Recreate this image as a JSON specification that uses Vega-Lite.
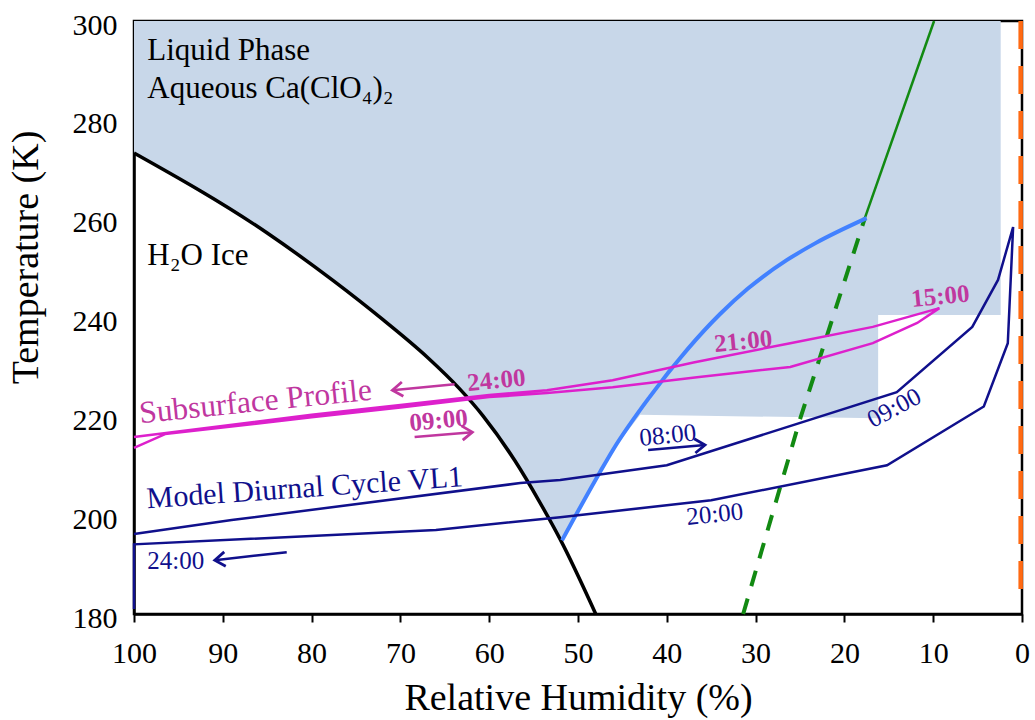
{
  "$schema": "https://vega.github.io/schema/vega-lite/v6.json",
  "width": 888,
  "height": 593,
  "autosize": "none",
  "padding": {"left": 134, "top": 21, "right": 13, "bottom": 106},
  "background": "white",
  "config": {
    "view": {"stroke": "black", "strokeWidth": 2.5},
    "axis": {
      "labelFont": "Liberation Serif",
      "titleFont": "Liberation Serif",
      "labelColor": "black",
      "titleColor": "black",
      "labelFontSize": 30,
      "titleFontSize": 38,
      "titleFontWeight": "normal",
      "domainColor": "black",
      "domainWidth": 2.5,
      "grid": false,
      "labelFlush": false,
      "labelOverlap": false
    }
  },
  "datasets": {
    "liquid": [
      {"i": 0, "rh": 100, "t": 300},
      {"i": 1, "rh": 100, "t": 273.3},
      {"i": 2, "rh": 85.0, "t": 257.1},
      {"i": 3, "rh": 77.6, "t": 247.5},
      {"i": 4, "rh": 72.0, "t": 239.6},
      {"i": 5, "rh": 67.0, "t": 232.0},
      {"i": 6, "rh": 63.3, "t": 225.5},
      {"i": 7, "rh": 60.7, "t": 220.1},
      {"i": 8, "rh": 57.1, "t": 211.0},
      {"i": 9, "rh": 54.3, "t": 202.6},
      {"i": 10, "rh": 51.9, "t": 195.0},
      {"i": 11, "rh": 47.5, "t": 208.8},
      {"i": 12, "rh": 46.1, "t": 213.1},
      {"i": 13, "rh": 43.0, "t": 220.3},
      {"i": 14, "rh": 16.2, "t": 219.6},
      {"i": 15, "rh": 16.2, "t": 240.5},
      {"i": 16, "rh": 2.4, "t": 240.5},
      {"i": 17, "rh": 2.4, "t": 300}
    ],
    "ice": [
      {"i": 0, "rh": 100, "t": 273.3},
      {"i": 1, "rh": 85.0, "t": 257.1},
      {"i": 2, "rh": 77.6, "t": 247.5},
      {"i": 3, "rh": 72.0, "t": 239.6},
      {"i": 4, "rh": 67.0, "t": 232.0},
      {"i": 5, "rh": 63.3, "t": 225.5},
      {"i": 6, "rh": 60.7, "t": 220.1},
      {"i": 7, "rh": 57.1, "t": 211.0},
      {"i": 8, "rh": 54.3, "t": 202.6},
      {"i": 9, "rh": 52.0, "t": 195.1},
      {"i": 10, "rh": 48.0, "t": 180}
    ],
    "green": [
      {"part": "solid", "rh": 9.9, "t": 300},
      {"part": "solid", "rh": 17.7, "t": 260.1},
      {"part": "dashed", "rh": 17.7, "t": 260.1},
      {"part": "dashed", "rh": 25.0, "t": 219.4},
      {"part": "dashed", "rh": 31.4, "t": 180}
    ],
    "efflorescence": [
      {"i": 0, "rh": 51.8, "t": 194.9},
      {"i": 1, "rh": 47.5, "t": 208.8},
      {"i": 2, "rh": 46.1, "t": 213.1},
      {"i": 3, "rh": 41.9, "t": 224.0},
      {"i": 4, "rh": 37.7, "t": 233.5},
      {"i": 5, "rh": 34.0, "t": 240.7},
      {"i": 6, "rh": 30.9, "t": 245.8},
      {"i": 7, "rh": 26.5, "t": 251.6},
      {"i": 8, "rh": 23.3, "t": 255.0},
      {"i": 9, "rh": 17.5, "t": 260.1}
    ],
    "subsurface": [
      {"i": 0, "rh": 100, "t": 213.6},
      {"i": 1, "rh": 96.5, "t": 216.4},
      {"i": 2, "rh": 80, "t": 219.8},
      {"i": 3, "rh": 70, "t": 221.8},
      {"i": 4, "rh": 60, "t": 223.9},
      {"i": 5, "rh": 53.5, "t": 224.7},
      {"i": 6, "rh": 46.1, "t": 225.9},
      {"i": 7, "rh": 36.6, "t": 227.9},
      {"i": 8, "rh": 26.1, "t": 230.0},
      {"i": 9, "rh": 16.8, "t": 234.8},
      {"i": 10, "rh": 11.8, "t": 238.9},
      {"i": 11, "rh": 9.3, "t": 241.9},
      {"i": 12, "rh": 16.8, "t": 238.1},
      {"i": 13, "rh": 26.1, "t": 234.8},
      {"i": 14, "rh": 37, "t": 230.9},
      {"i": 15, "rh": 46.1, "t": 227.3},
      {"i": 16, "rh": 53.5, "t": 225.3},
      {"i": 17, "rh": 60, "t": 224.3},
      {"i": 18, "rh": 70, "t": 222.3},
      {"i": 19, "rh": 80, "t": 220.3},
      {"i": 20, "rh": 100, "t": 215.8}
    ],
    "model": [
      {"i": 0, "rh": 100, "t": 181},
      {"i": 1, "rh": 100, "t": 194.1},
      {"i": 2, "rh": 66, "t": 197.0},
      {"i": 3, "rh": 52, "t": 199.6},
      {"i": 4, "rh": 35, "t": 203.0},
      {"i": 5, "rh": 15.2, "t": 210.1},
      {"i": 6, "rh": 4.3, "t": 222.0},
      {"i": 7, "rh": 1.6, "t": 234.8},
      {"i": 8, "rh": 1.0, "t": 258.3},
      {"i": 9, "rh": 2.7, "t": 247.6},
      {"i": 10, "rh": 5.6, "t": 238.1},
      {"i": 11, "rh": 14.1, "t": 224.9},
      {"i": 12, "rh": 40, "t": 210.1},
      {"i": 13, "rh": 52, "t": 207.1},
      {"i": 14, "rh": 56.5, "t": 206.5},
      {"i": 15, "rh": 89, "t": 199},
      {"i": 16, "rh": 100, "t": 196.2}
    ],
    "dry": [
      {"rh": 0.15, "t": 300},
      {"rh": 0.15, "t": 183}
    ],
    "arrows": [
      {"id": "s24", "series": "subsurface", "end": "tail", "dir": "left", "rh": 63.9, "t": 226.5},
      {"id": "s24", "series": "subsurface", "end": "head", "dir": "left", "rh": 70.9, "t": 225.3},
      {"id": "s09", "series": "subsurface", "end": "tail", "dir": "right", "rh": 68.4, "t": 215.8},
      {"id": "s09", "series": "subsurface", "end": "head", "dir": "right", "rh": 61.9, "t": 216.8},
      {"id": "m24", "series": "model", "end": "tail", "dir": "left", "rh": 82.8, "t": 192.5},
      {"id": "m24", "series": "model", "end": "head", "dir": "left", "rh": 90.9, "t": 190.9},
      {"id": "m08", "series": "model", "end": "tail", "dir": "right", "rh": 42.1, "t": 213.2},
      {"id": "m08", "series": "model", "end": "head", "dir": "right", "rh": 35.7, "t": 214.2}
    ],
    "phases": [
      {"text": "Liquid Phase", "rh": 98.5, "t": 292.1},
      {"text": "Aqueous Ca(ClO₄)₂", "rh": 98.5, "t": 284.4},
      {"text": "H₂O Ice", "rh": 98.5, "t": 250.6}
    ],
    "subTimes": [
      {"text": "24:00", "rh": 59.2, "t": 227.3},
      {"text": "09:00", "rh": 65.7, "t": 219.2},
      {"text": "21:00", "rh": 31.4, "t": 235.2},
      {"text": "15:00", "rh": 9.2, "t": 244.3}
    ],
    "modelTimesFlat": [
      {"text": "24:00", "rh": 95.3, "t": 190.7}
    ],
    "modelTimesTilted": [
      {"text": "08:00", "rh": 39.9, "t": 216.2},
      {"text": "20:00", "rh": 34.6, "t": 200.2}
    ],
    "modelTimesSteep": [
      {"text": "09:00", "rh": 14.4, "t": 221.7}
    ]
  },
  "encoding": {
    "x": {
      "field": "rh",
      "type": "quantitative",
      "scale": {"domain": [0, 100], "reverse": true, "nice": false},
      "axis": {
        "title": "Relative Humidity (%)",
        "values": [0, 10, 20, 30, 40, 50, 60, 70, 80, 90, 100],
        "format": "d",
        "tickSize": 8,
        "tickWidth": 2,
        "tickColor": "black",
        "labelPadding": 16,
        "titlePadding": 11
      }
    },
    "y": {
      "field": "t",
      "type": "quantitative",
      "scale": {"domain": [180, 300], "nice": false, "zero": false},
      "axis": {
        "title": "Temperature (K)",
        "values": [180, 200, 220, 240, 260, 280, 300],
        "ticks": false,
        "tickSize": 0,
        "labelPadding": 17,
        "labelOffset": 4,
        "titleX": -97,
        "titleY": 236,
        "titleBaseline": "alphabetic",
        "titleAlign": "center"
      }
    }
  },
  "layer": [
    {
      "data": {"name": "liquid"},
      "mark": {"type": "line", "fill": "#c8d7e9", "stroke": null, "strokeWidth": 0},
      "encoding": {"order": {"field": "i", "type": "quantitative"}}
    },
    {
      "data": {"name": "ice"},
      "mark": {"type": "line", "color": "black", "strokeWidth": 3.5, "interpolate": "monotone"},
      "encoding": {"order": {"field": "i", "type": "quantitative"}}
    },
    {
      "data": {"name": "green"},
      "transform": [{"filter": "datum.part === 'solid'"}],
      "mark": {"type": "line", "color": "#128a12", "strokeWidth": 2.5},
      "encoding": {}
    },
    {
      "data": {"name": "green"},
      "transform": [{"filter": "datum.part === 'dashed'"}],
      "mark": {"type": "line", "color": "#128a12", "strokeWidth": 4, "strokeDash": [16, 13]},
      "encoding": {}
    },
    {
      "data": {"name": "efflorescence"},
      "mark": {"type": "line", "color": "#4281ff", "strokeWidth": 4, "interpolate": "monotone"},
      "encoding": {"order": {"field": "i", "type": "quantitative"}}
    },
    {
      "data": {"name": "subsurface"},
      "mark": {"type": "line", "color": "#dd20cc", "strokeWidth": 2.5},
      "encoding": {"order": {"field": "i", "type": "quantitative"}}
    },
    {
      "data": {"name": "model"},
      "mark": {"type": "line", "color": "#10108c", "strokeWidth": 2.5},
      "encoding": {"order": {"field": "i", "type": "quantitative"}}
    },
    {
      "data": {"name": "dry"},
      "mark": {"type": "line", "color": "#ff6a13", "strokeWidth": 4.5, "strokeDash": [28, 17]},
      "encoding": {}
    },
    {
      "data": {"name": "arrows"},
      "mark": {"type": "line", "strokeWidth": 2.5},
      "encoding": {
        "detail": {"field": "id"},
        "color": {
          "field": "series",
          "type": "nominal",
          "scale": {"domain": ["subsurface", "model"], "range": ["#c0379f", "#10108c"]},
          "legend": null
        }
      }
    },
    {
      "data": {"name": "arrows"},
      "transform": [{"filter": "datum.end === 'head' && datum.dir === 'left'"}],
      "mark": {"type": "point", "shape": "M-1,-0.7L0,0L-1,0.7", "filled": false, "strokeWidth": 2.8, "size": 420, "angle": 174, "opacity": 1},
      "encoding": {
        "color": {
          "field": "series",
          "type": "nominal",
          "scale": {"domain": ["subsurface", "model"], "range": ["#c0379f", "#10108c"]},
          "legend": null
        }
      }
    },
    {
      "data": {"name": "arrows"},
      "transform": [{"filter": "datum.end === 'head' && datum.dir === 'right'"}],
      "mark": {"type": "point", "shape": "M-1,-0.7L0,0L-1,0.7", "filled": false, "strokeWidth": 2.8, "size": 420, "angle": 355, "opacity": 1},
      "encoding": {
        "color": {
          "field": "series",
          "type": "nominal",
          "scale": {"domain": ["subsurface", "model"], "range": ["#c0379f", "#10108c"]},
          "legend": null
        }
      }
    },
    {
      "data": {"name": "phases"},
      "mark": {"type": "text", "align": "left", "baseline": "alphabetic", "font": "Liberation Serif", "fontSize": 31, "color": "black"},
      "encoding": {"text": {"field": "text"}}
    },
    {
      "data": {"values": [{"text": "Subsurface Profile", "rh": 99.3, "t": 218.6}]},
      "mark": {"type": "text", "align": "left", "baseline": "alphabetic", "font": "Liberation Serif", "fontSize": 31.5, "color": "#c0379f", "angle": 354.2},
      "encoding": {"text": {"field": "text"}}
    },
    {
      "data": {"values": [{"text": "Model Diurnal Cycle VL1", "rh": 98.5, "t": 201.4}]},
      "mark": {"type": "text", "align": "left", "baseline": "alphabetic", "font": "Liberation Serif", "fontSize": 30, "color": "#10108c", "angle": 356},
      "encoding": {"text": {"field": "text"}}
    },
    {
      "data": {"name": "subTimes"},
      "mark": {"type": "text", "align": "center", "baseline": "middle", "font": "Liberation Serif", "fontSize": 25, "fontWeight": "bold", "color": "#c0379f", "angle": 354.5},
      "encoding": {"text": {"field": "text"}}
    },
    {
      "data": {"name": "modelTimesFlat"},
      "mark": {"type": "text", "align": "center", "baseline": "middle", "font": "Liberation Serif", "fontSize": 25, "color": "#10108c"},
      "encoding": {"text": {"field": "text"}}
    },
    {
      "data": {"name": "modelTimesTilted"},
      "mark": {"type": "text", "align": "center", "baseline": "middle", "font": "Liberation Serif", "fontSize": 25, "color": "#10108c", "angle": 354},
      "encoding": {"text": {"field": "text"}}
    },
    {
      "data": {"name": "modelTimesSteep"},
      "mark": {"type": "text", "align": "center", "baseline": "middle", "font": "Liberation Serif", "fontSize": 25, "color": "#10108c", "angle": 332},
      "encoding": {"text": {"field": "text"}}
    }
  ]
}
